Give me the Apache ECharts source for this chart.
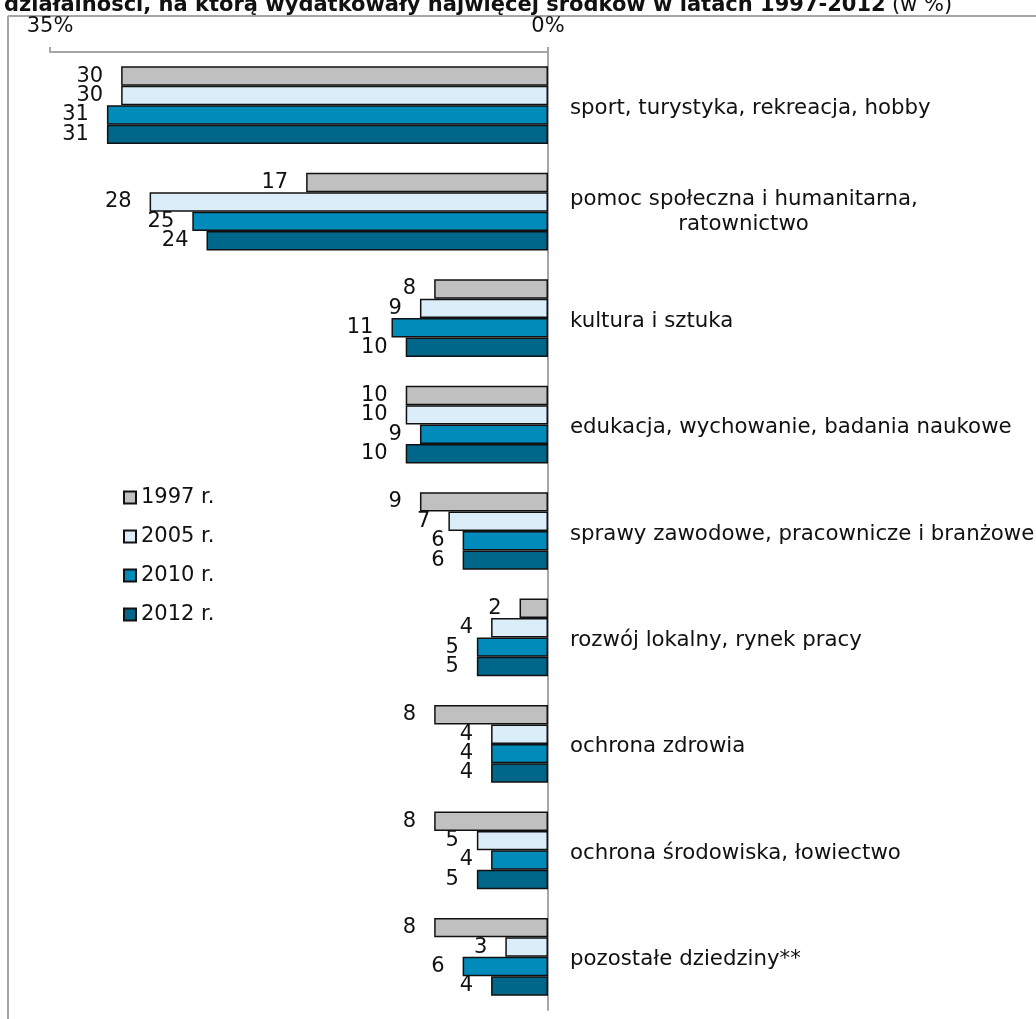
<!DOCTYPE html>
<html>
<head>
<meta charset="utf-8">
<script src="https://cdn.jsdelivr.net/npm/echarts@6/dist/echarts.min.js"></script>
<style>
  html, body { margin: 0; padding: 0; background: #fff; }
  #chart { width: 1036px; height: 1019px; }
</style>
</head>
<body>
<div id="chart"></div>
<script>
// dane (w %)
const categories = [
  'sport, turystyka, rekreacja, hobby',
  'pomoc społeczna i humanitarna,\n                ratownictwo',
  'kultura i sztuka',
  'edukacja, wychowanie, badania naukowe',
  'sprawy zawodowe, pracownicze i branżowe',
  'rozwój lokalny, rynek pracy',
  'ochrona zdrowia',
  'ochrona środowiska, łowiectwo',
  'pozostałe dziedziny**'
]
const years = ['1997 r.', '2005 r.', '2010 r.', '2012 r.']
const v1997 = [30, 17, 8, 10, 9, 2, 8, 8, 8]
const v2005 = [30, 28, 9, 10, 7, 4, 4, 5, 3]
const v2010 = [31, 25, 11, 9, 6, 5, 4, 4, 6]
const v2012 = [31, 24, 10, 10, 6, 5, 4, 5, 4]
const axisTicks = ['35%', '0%']

const colors = ['#C0C0C0', '#DAEDF8', '#008BBA', '#00678A']
const FONT = 'DejaVu Sans'

const chart = echarts.init(document.getElementById('chart'))

function barSeries(name, data, color) {
  return {
    name: name,
    type: 'bar',
    data: data,
    barGap: '0%',
    barCategoryGap: '27%',
    itemStyle: { color: color, borderColor: '#111', borderWidth: 1.5 },
    label: {
      show: true,
      position: 'left',
      distance: 18,
      color: '#111',
      fontFamily: FONT,
      fontSize: 21
    }
  }
}

chart.setOption({
  animation: false,
  textStyle: { fontFamily: FONT },
  title: {
    left: -1,
    top: -10,
    text: '{b|działalności, na którą wydatkowały najwięcej środków w latach 1997-2012} {n|(w %)}',
    textStyle: {
      rich: {
        b: { fontFamily: FONT, fontSize: 21, fontWeight: 'bold', color: '#111' },
        n: { fontFamily: FONT, fontSize: 21, fontWeight: 'normal', color: '#111' }
      }
    }
  },
  legend: {
    orient: 'vertical',
    left: 123,
    top: 487,
    padding: 0,
    itemWidth: 12,
    itemHeight: 12,
    itemGap: 18,
    icon: 'rect',
    data: years,
    textStyle: { fontFamily: FONT, fontSize: 21, color: '#111' }
  },
  grid: {
    left: 50,
    right: 488,
    top: 52,
    bottom: 9,
    containLabel: false,
    outerBoundsMode: 'none'
  },
  xAxis: {
    type: 'value',
    position: 'top',
    inverse: true,
    min: 0,
    max: 35,
    interval: 35,
    axisLine: { show: true, lineStyle: { color: '#A6A6A6', width: 2 } },
    axisTick: { show: true, length: 5, lineStyle: { color: '#A6A6A6', width: 2 } },
    splitLine: { show: false },
    axisLabel: {
      margin: 15,
      fontFamily: FONT,
      fontSize: 21,
      color: '#111',
      formatter: function (v) { return v === 0 ? axisTicks[1] : axisTicks[0] }
    }
  },
  yAxis: {
    type: 'category',
    position: 'right',
    inverse: true,
    data: categories,
    axisLine: { show: true, lineStyle: { color: '#A6A6A6', width: 2 } },
    axisTick: { show: false },
    axisLabel: {
      margin: 22,
      align: 'left',
      // jednowierszowe lekko w dół, dwuwierszowe wyśrodkowane
      formatter: function (v) {
        const lines = v.split('\n')
        if (lines.length === 1) return '{c|' + v + '}'
        return lines.map(function (s) { return '{m|' + s + '}' }).join('\n')
      },
      rich: {
        c: {
          fontFamily: FONT,
          fontSize: 21.3,
          lineHeight: 19,
          padding: [6, 0, 0, 0],
          color: '#111'
        },
        m: {
          fontFamily: FONT,
          fontSize: 21.3,
          lineHeight: 25,
          color: '#111'
        }
      }
    }
  },
  graphic: [
    { type: 'line', shape: { x1: 8, y1: 16, x2: 1036, y2: 16 }, style: { stroke: '#A6A6A6', lineWidth: 2 }, silent: true },
    { type: 'line', shape: { x1: 8, y1: 16, x2: 8, y2: 1019 }, style: { stroke: '#A6A6A6', lineWidth: 2 }, silent: true }
  ],
  series: [
    barSeries(years[0], v1997, colors[0]),
    barSeries(years[1], v2005, colors[1]),
    barSeries(years[2], v2010, colors[2]),
    barSeries(years[3], v2012, colors[3])
  ]
})
</script>
</body>
</html>
